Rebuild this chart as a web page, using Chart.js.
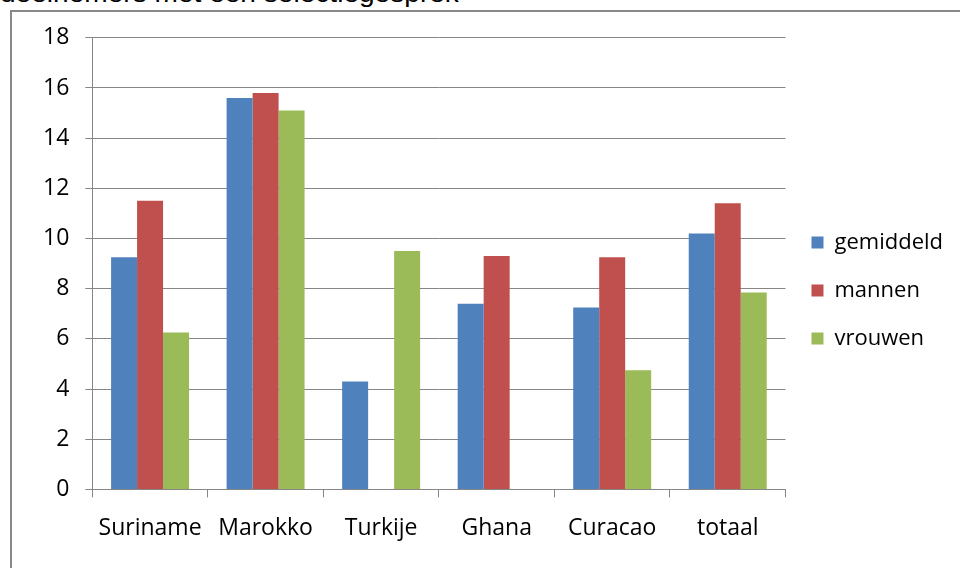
<!DOCTYPE html>
<html>
<head>
<meta charset="utf-8">
<script src="https://cdn.jsdelivr.net/npm/chart.js@4/dist/chart.umd.min.js"></script>
<style>
  html, body { margin: 0; padding: 0; background: #fff; overflow: hidden; }
  body { width: 960px; height: 568px; position: relative; }
  #title {
    position: absolute; left: 0; top: -20px; line-height: 26px; white-space: nowrap;
    font-family: "Liberation Sans", Arial, sans-serif; font-size: 26px; color: #000;
    transform-origin: 0 0; transform: scaleX(1.08);
  }
  #frame {
    position: absolute; left: 10px; top: 10px; width: 960px; height: 570px;
    border-left: 2px solid #888; border-top: 2px solid #888; background: #fff;
  }
  #wrap { position: absolute; left: 12px; top: 12px; width: 948px; height: 556px; }
</style>
</head>
<body>
<div id="title">deelnemers met een selectiegesprek</div>
<div id="frame"></div>
<div id="wrap"><canvas id="myChart"></canvas></div>
<script>
let categories = ["Suriname", "Marokko", "Turkije", "Ghana", "Curacao", "totaal"];
let gemiddeld = [9.25, 15.6, 4.3, 7.4, 7.25, 10.2];
let mannen = [11.5, 15.8, null, 9.3, 9.25, 11.4];
let vrouwen = [6.25, 15.1, 9.5, null, 4.75, 7.85];

let ctx = document.getElementById("myChart").getContext("2d");
let font = "'Open Sans', sans-serif";

let myChart = new Chart(ctx, {
  type: "bar",
  data: {
    labels: categories,
    datasets: [
      { label: "gemiddeld", data: gemiddeld, backgroundColor: "#4F81BD" },
      { label: "mannen", data: mannen, backgroundColor: "#C0504D" },
      { label: "vrouwen", data: vrouwen, backgroundColor: "#9BBB59" },
    ],
  },
  options: {
    responsive: true,
    maintainAspectRatio: false,
    animation: false,
    categoryPercentage: 0.675,
    barPercentage: 1,
    layout: { padding: { top: 10, right: 7, bottom: 9, left: 15 } },
    plugins: {
      tooltip: { enabled: false },
      legend: {
        position: "right",
        labels: {
          color: "#000",
          font: { family: font, size: 22 },
          boxWidth: 12,
          boxHeight: 12,
          padding: 26,
        },
      },
    },
    scales: {
      x: {
        grid: {
          drawOnChartArea: false,
          drawTicks: true,
          tickLength: 8,
          color: "#868686",
        },
        border: { color: "#868686" },
        ticks: { color: "#000", font: { family: font, size: 23 }, padding: 17 },
      },
      y: {
        min: 0,
        max: 18,
        ticks: { stepSize: 2, color: "#000", font: { family: font, size: 23, lineHeight: 0.85 }, padding: 16 },
        grid: { color: "#868686", tickLength: 7 },
        border: { color: "#868686" },
      },
    },
  },
});
</script>
</body>
</html>
